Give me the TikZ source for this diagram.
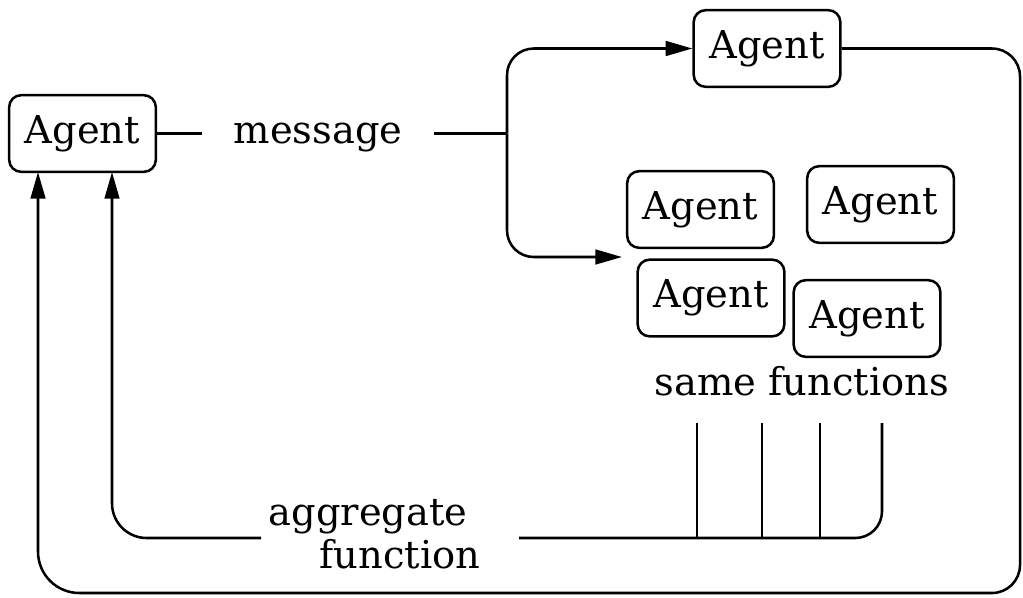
\documentclass[tikz,border=0pt]{standalone}
\usepackage{fontspec}
\setmainfont{DejaVu Serif}
\usetikzlibrary{arrows.meta}
\begin{document}
\begin{tikzpicture}[x=0.75pt, y=-0.75pt,
  line width=1.9pt,
  every node/.style={font=\fontsize{28.8pt}{34pt}\selectfont},
  agent/.style={draw, rounded corners=9pt, minimum width=110pt, minimum height=57.5pt, inner sep=0pt},
  label/.style={inner sep=0pt, anchor=base},
  tip/.style={-{Triangle[length=20pt, width=11pt]}}]
\useasboundingbox (0,0) rectangle (1023,597);

% agents
\node[agent] (L) at (82.5,133.5) {Agent};
\node[agent] (T) at (767,48.5) {Agent};
\node[agent] (A) at (700.5,209.5) {Agent};
\node[agent] (B) at (880.5,204.5) {Agent};
\node[agent] (C) at (711,298) {Agent};
\node[agent] (D) at (867,318.5) {Agent};

% labels
\node[label, inner xsep=23pt] (msg) at (318,143) {message};
\node[label] (same) at (802,395) {same functions};
\node[label] (agg) at (368,525) {aggregate};
\node[label] (fun) at (400,568) {function};

% junction points
\coordinate (jn) at (507,133.5);
\coordinate (in1) at (622,257);
\coordinate (c1) at (1020,48.5);
\coordinate (c2) at (1020,593);
\coordinate (c3) at (38,593);
\coordinate (a1) at (38,172);
\coordinate (a2) at (112,172);
\coordinate (gR) at (519,538);
\coordinate (gL) at (261,538);
\coordinate (v1) at (697,423);
\coordinate (v2) at (762,423);
\coordinate (v3) at (820,423);
\coordinate (v4) at (882,423);

% message fan-out
\draw (L.east) -- (L.east -| msg.west);
\draw (jn -| msg.east) -- (jn);
\draw[tip, rounded corners=20pt] (jn) |- (T.west);
\draw[tip, rounded corners=20pt] (jn) |- (in1);

% outer feedback loop
\draw[tip, rounded corners=21pt] (T.east) -- (c1) -- (c2) [rounded corners=31pt] -- (c3) -- (a1);

% same functions collected into the aggregate function
\draw (v1) -- (v1 |- gR);
\draw (v2) -- (v2 |- gR);
\draw (v3) -- (v3 |- gR);
\draw[rounded corners=20pt] (v4) |- (gR);
\draw[tip, rounded corners=26pt] (gL) -| (a2);
\end{tikzpicture}
\end{document}
